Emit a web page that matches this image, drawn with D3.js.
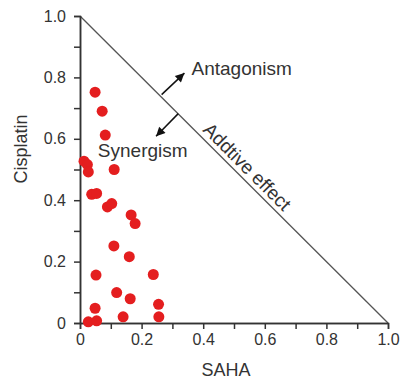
<!DOCTYPE html>
<html><head><meta charset="utf-8">
<script src="https://cdn.jsdelivr.net/npm/d3@7"></script>
<style>
html,body{margin:0;padding:0;background:#fff;}
text{font-family:"Liberation Sans",Arial,sans-serif;fill:#333;}
</style></head>
<body><svg id="c" width="403" height="385"></svg>
<script>
const sahaValues = [0.049,0.072,0.082,0.013,0.024,0.027,0.111,0.038,0.054,0.089,0.103,0.166,0.179,0.110,0.160,0.052,0.238,0.119,0.163,0.049,0.255,0.027,0.054,0.140,0.256];
const cisplatinValues = [0.752,0.690,0.612,0.527,0.516,0.492,0.500,0.419,0.422,0.378,0.389,0.352,0.324,0.251,0.216,0.156,0.158,0.099,0.079,0.048,0.061,0.004,0.007,0.020,0.020];
const majorTicks = [0,0.2,0.4,0.6,0.8,1.0];
const minorTicks = [0.1,0.3,0.5,0.7,0.9];
const xTitle = "SAHA", yTitle = "Cisplatin";
const additiveLine = [[0,1],[1,0]];
const annotations = [
  {text:"Antagonism", x:0.362, y:0.807, rot:0},
  {text:"Synergism", x:0.058, y:0.541, rot:0},
  {text:"Addtive effect", x:0.396, y:0.626, rot:45}
];
const arrows = [
  {x1:0.265,y1:0.744,x2:0.339,y2:0.814},
  {x1:0.319,y1:0.682,x2:0.247,y2:0.608}
];

const svg = d3.select("#c");
const x = d3.scaleLinear().domain([0,1]).range([80,388]);
const y = d3.scaleLinear().domain([0,1]).range([323,16]);
const fmt = d => d===0 ? "0" : d.toFixed(1);

svg.append("defs").append("marker").attr("id","ah")
  .attr("viewBox","0 0 10 10").attr("refX",10).attr("refY",5)
  .attr("markerWidth",11).attr("markerHeight",9).attr("markerUnits","userSpaceOnUse")
  .attr("orient","auto")
  .append("path").attr("d","M0,0L10,5L0,10Z").attr("fill","#111");

// diagonal line
svg.append("path").datum(additiveLine)
  .attr("d", d3.line().x(d=>x(d[0])).y(d=>y(d[1])))
  .attr("stroke","#555").attr("stroke-width",1.3).attr("fill","none");

function styleAxis(g){
  g.select(".domain").attr("stroke","#333").attr("stroke-width",1.5);
  g.selectAll(".tick line").attr("stroke","#333").attr("stroke-width",1.5);
  g.selectAll(".tick text").attr("fill","#333").style("font-size","16px")
   .style("font-family","'Liberation Sans',Arial,sans-serif");
}
// minor ticks
const gxm = svg.append("g").attr("transform","translate(0,323)")
  .call(d3.axisBottom(x).tickValues(minorTicks).tickSize(6).tickFormat(""));
styleAxis(gxm);
const gym = svg.append("g").attr("transform","translate(80,0)")
  .call(d3.axisLeft(y).tickValues(minorTicks).tickSize(6).tickFormat(""));
styleAxis(gym);
// major ticks
const gx = svg.append("g").attr("transform","translate(0,323)")
  .call(d3.axisBottom(x).tickValues(majorTicks).tickSize(6).tickSizeOuter(0).tickPadding(5).tickFormat(fmt));
styleAxis(gx);
const gy = svg.append("g").attr("transform","translate(80,0)")
  .call(d3.axisLeft(y).tickValues(majorTicks).tickSize(6).tickSizeOuter(0).tickPadding(8).tickFormat(fmt));
styleAxis(gy);

// axis titles
svg.append("text").attr("x",226).attr("y",376).attr("text-anchor","middle")
  .style("font-size","18px").text(xTitle);
svg.append("text").attr("transform","translate(27,149) rotate(-90)").attr("text-anchor","middle")
  .style("font-size","18px").text(yTitle);

// points
svg.append("g").selectAll("circle").data(sahaValues.map((v,i)=>[v,cisplatinValues[i]]))
  .join("circle").attr("cx",d=>x(d[0])).attr("cy",d=>y(d[1])).attr("r",5.5)
  .attr("fill","#e41e1f");

// arrows
svg.append("g").selectAll("line").data(arrows).join("line")
  .attr("x1",d=>x(d.x1)).attr("y1",d=>y(d.y1)).attr("x2",d=>x(d.x2)).attr("y2",d=>y(d.y2))
  .attr("stroke","#111").attr("stroke-width",1.5).attr("marker-end","url(#ah)");

// annotations
svg.append("g").selectAll("text").data(annotations).join("text")
  .attr("transform",d=>`translate(${x(d.x)},${y(d.y)}) rotate(${d.rot})`)
  .style("font-size","19px").text(d=>d.text);
</script></body></html>
